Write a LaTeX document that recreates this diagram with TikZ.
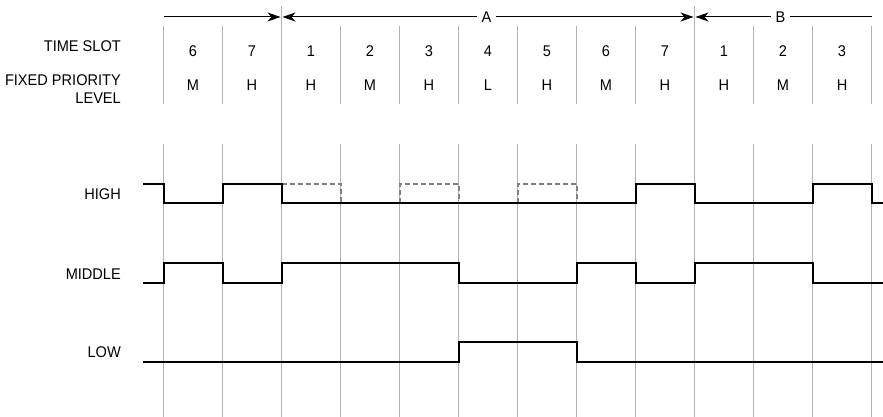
\documentclass[tikz,border=0pt]{standalone}
\usepackage{fontspec}
\setmainfont{Liberation Sans}[FakeStretch=0.94]
\usetikzlibrary{arrows.meta}
\begin{document}
\begin{tikzpicture}[x=1pt,y=-1pt,
  txt/.style={inner sep=0pt,font=\fontsize{15.5}{17}\selectfont},
  gridl/.style={draw=black!30,line width=1pt},
  sig/.style={draw=black,line width=2pt,line join=miter},
  ghost/.style={draw=black!50,line width=2pt,dash pattern=on 5pt off 3pt},
  dim/.style={draw=black,line width=1pt},
  tipr/.style={-{Stealth[length=13pt,width=9pt,inset=4pt]}},
  tipl/.style={{Stealth[length=13pt,width=9pt,inset=4pt]}-},
  lab/.style={txt,fill=white,inner xsep=4pt,inner ysep=1pt}]
\useasboundingbox (0,0) rectangle (883,417);
% grid lines
\foreach \i in {0,1,3,4,5,6,7,8,10,11,12}{
  \draw[gridl] ({163.5+59*\i},26) -- ({163.5+59*\i},104);
  \draw[gridl] ({163.5+59*\i},144) -- ({163.5+59*\i},417);
}
\draw[gridl] (281.5,6) -- (281.5,417);
\draw[gridl] (694.5,6) -- (694.5,417);
% dimension arrows
\coordinate (d0) at (163.5,17);
\coordinate (d1r) at (280.5,17);
\coordinate (d1l) at (282.5,17);
\coordinate (d2r) at (693.5,17);
\coordinate (d2l) at (695.5,17);
\coordinate (d3) at (871.5,17);
\node[lab] (A) at (486.5,17) {A};
\node[lab] (B) at (780.5,17) {B};
\draw[dim,tipr] (d0) -- (d1r);
\draw[dim,tipl] (d1l) -- (A.west);
\draw[dim,tipr] (A.east) -- (d2r);
\draw[dim,tipl] (d2l) -- (B.west);
\draw[dim] (B.east) -- (d3);
% row labels
\node[txt,anchor=base east] (ts) at (121,52) {TIME SLOT};
\node[txt,anchor=base east] (fp) at (121,86) {FIXED PRIORITY};
\node[txt,anchor=base east] (lv) at (121,104) {LEVEL};
\foreach \n/\s/\p [count=\k from 0] in {a/6/M,b/7/H,c/1/H,d/2/M,e/3/H,f/4/L,g/5/H,h/6/M,i/7/H,j/1/H,k/2/M,l/3/H}{
  \node[txt,anchor=base] (s\n) at ({193+59*\k},56.5) {\s};
  \node[txt,anchor=base] (p\n) at ({193+59*\k},90.5) {\p};
}
% signal labels
\node[txt,anchor=east] (hi) at (121,194) {HIGH};
\node[txt,anchor=east] (mi) at (121,274) {MIDDLE};
\node[txt,anchor=east] (lo) at (121,352) {LOW};
% dashed possible HIGH slots
\draw[ghost] (281.5,184) -- (340.5,184) -- (340.5,203);
\draw[ghost] (399.5,203) -- (399.5,184) -- (458.5,184) -- (458.5,203);
\draw[ghost] (517.5,203) -- (517.5,184) -- (576.5,184) -- (576.5,203);
% HIGH
\draw[sig] (143,184) -- (163.5,184) -- (163.5,203) -- (222.5,203) -- (222.5,184)
  -- (281.5,184) -- (281.5,203) -- (635.5,203) -- (635.5,184) -- (694.5,184)
  -- (694.5,203) -- (812.5,203) -- (812.5,184) -- (871.5,184) -- (871.5,203) -- (883,203);
% MIDDLE
\draw[sig] (143,283) -- (163.5,283) -- (163.5,263) -- (222.5,263) -- (222.5,283)
  -- (281.5,283) -- (281.5,263) -- (458.5,263) -- (458.5,283) -- (576.5,283)
  -- (576.5,263) -- (635.5,263) -- (635.5,283) -- (694.5,283) -- (694.5,263)
  -- (812.5,263) -- (812.5,283) -- (883,283);
% LOW
\draw[sig] (143,362) -- (458.5,362) -- (458.5,342) -- (576.5,342) -- (576.5,362) -- (883,362);
\end{tikzpicture}
\end{document}
